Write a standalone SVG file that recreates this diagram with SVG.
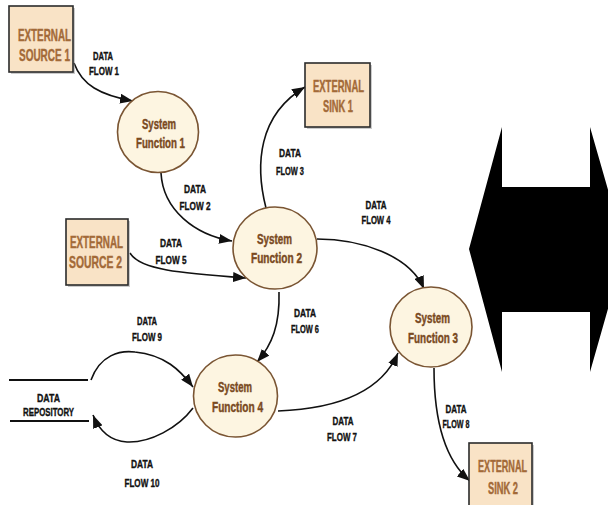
<svg xmlns="http://www.w3.org/2000/svg" width="608" height="505" viewBox="0 0 608 505">
  <style>
    text { font-family: "Liberation Sans", Arial, sans-serif; font-weight: bold; text-anchor: middle; }
    .ext-box { fill: #f9e3c6; stroke: #2b2b2b; stroke-width: 1.6; }
    .ext-shadow { fill: #8c8c8c; opacity: 0.45; }
    .ext-text { font-size: 17px; fill: #a36a38; stroke: #a36a38; stroke-width: 0.45; }
    .proc { fill: #fdf5e1; stroke: #7a5533; stroke-width: 1.6; }
    .proc-text { font-size: 15px; fill: #7a4a1f; stroke: #7a4a1f; stroke-width: 0.45; }
    .flow { fill: none; stroke: #111; stroke-width: 1.6; }
    .flow-text { font-size: 11px; fill: #111; stroke: #111; stroke-width: 0.35; }
    .store-line { stroke: #111; stroke-width: 2; }
  </style>
  <defs>
    <marker id="arrow" viewBox="0 0 13 10" refX="13" refY="5" markerWidth="13" markerHeight="10" markerUnits="userSpaceOnUse" orient="auto">
      <path d="M0,0 L13,5 L0,10 Z" fill="#111"/>
    </marker>
  </defs>

  <!-- connectors -->
  <g id="connectors">
    <path id="flow1" class="flow" d="M74,63 C82,85 100,95 133,101" marker-end="url(#arrow)"/>
    <path id="flow2" class="flow" d="M161,173 C163,210 195,235 232,241" marker-end="url(#arrow)"/>
    <path id="flow3" class="flow" d="M266,208 C255,165 258,115 305,87" marker-end="url(#arrow)"/>
    <path id="flow4" class="flow" d="M317,239 C360,239 410,255 424,289" marker-end="url(#arrow)"/>
    <path id="flow5" class="flow" d="M130,253 C140,270 180,273 246,278" marker-end="url(#arrow)"/>
    <path id="flow6" class="flow" d="M279,292 C280,325 272,345 257,362" marker-end="url(#arrow)"/>
    <path id="flow7" class="flow" d="M278,411 C330,409 380,395 398,353" marker-end="url(#arrow)"/>
    <path id="flow8" class="flow" d="M434,368 C434,420 445,460 470,481" marker-end="url(#arrow)"/>
    <path id="flow9" class="flow" d="M91,380 C100,355 120,350 135,352 C165,355 180,370 193,387" marker-end="url(#arrow)"/>
    <path id="flow10" class="flow" d="M193,408 C178,428 150,443 127,442 C110,441 99,430 93,415" marker-end="url(#arrow)"/>

    <g id="flow-labels" class="flow-text">
      <text x="103" y="60" textLength="20" lengthAdjust="spacingAndGlyphs">DATA</text>
      <text x="104" y="75" textLength="30" lengthAdjust="spacingAndGlyphs">FLOW 1</text>
      <text x="195" y="193" textLength="22" lengthAdjust="spacingAndGlyphs">DATA</text>
      <text x="195" y="210" textLength="31" lengthAdjust="spacingAndGlyphs">FLOW 2</text>
      <text x="290" y="157" textLength="22" lengthAdjust="spacingAndGlyphs">DATA</text>
      <text x="290" y="175" textLength="28" lengthAdjust="spacingAndGlyphs">FLOW 3</text>
      <text x="376" y="209" textLength="21" lengthAdjust="spacingAndGlyphs">DATA</text>
      <text x="376" y="224" textLength="29" lengthAdjust="spacingAndGlyphs">FLOW 4</text>
      <text x="171" y="247" textLength="22" lengthAdjust="spacingAndGlyphs">DATA</text>
      <text x="171" y="264" textLength="31" lengthAdjust="spacingAndGlyphs">FLOW 5</text>
      <text x="305" y="317" textLength="22" lengthAdjust="spacingAndGlyphs">DATA</text>
      <text x="305" y="333" textLength="28" lengthAdjust="spacingAndGlyphs">FLOW 6</text>
      <text x="343" y="425" textLength="21" lengthAdjust="spacingAndGlyphs">DATA</text>
      <text x="342" y="441" textLength="30" lengthAdjust="spacingAndGlyphs">FLOW 7</text>
      <text x="456" y="413" textLength="21" lengthAdjust="spacingAndGlyphs">DATA</text>
      <text x="456" y="428" textLength="27" lengthAdjust="spacingAndGlyphs">FLOW 8</text>
      <text x="147" y="325" textLength="20" lengthAdjust="spacingAndGlyphs">DATA</text>
      <text x="147" y="341" textLength="30" lengthAdjust="spacingAndGlyphs">FLOW 9</text>
      <text x="142" y="468" textLength="22" lengthAdjust="spacingAndGlyphs">DATA</text>
      <text x="142" y="487" textLength="35" lengthAdjust="spacingAndGlyphs">FLOW 10</text>
    </g>
  </g>

  <!-- external entities -->
  <g id="external-source-1">
    <rect class="ext-shadow" x="11" y="8" width="64" height="66"/>
    <rect class="ext-box" x="9" y="6" width="64" height="66"/>
    <text class="ext-text" x="44.5" y="41" textLength="53" lengthAdjust="spacingAndGlyphs">EXTERNAL</text>
    <text class="ext-text" x="44.5" y="61" textLength="51" lengthAdjust="spacingAndGlyphs">SOURCE 1</text>
  </g>
  <g id="external-sink-1">
    <rect class="ext-shadow" x="307" y="65" width="65" height="64"/>
    <rect class="ext-box" x="305" y="63" width="65" height="64"/>
    <text class="ext-text" x="338.5" y="92" textLength="51" lengthAdjust="spacingAndGlyphs">EXTERNAL</text>
    <text class="ext-text" x="338" y="112" textLength="30" lengthAdjust="spacingAndGlyphs">SINK 1</text>
  </g>
  <g id="external-source-2">
    <rect class="ext-shadow" x="68" y="221" width="62" height="66"/>
    <rect class="ext-box" x="66" y="219" width="62" height="66"/>
    <text class="ext-text" x="96.5" y="248" textLength="53" lengthAdjust="spacingAndGlyphs">EXTERNAL</text>
    <text class="ext-text" x="95.5" y="268" textLength="53" lengthAdjust="spacingAndGlyphs">SOURCE 2</text>
  </g>
  <g id="external-sink-2">
    <rect class="ext-shadow" x="471" y="445" width="63" height="66"/>
    <rect class="ext-box" x="469" y="443" width="63" height="66"/>
    <text class="ext-text" x="502.5" y="472" textLength="49" lengthAdjust="spacingAndGlyphs">EXTERNAL</text>
    <text class="ext-text" x="503" y="494" textLength="30" lengthAdjust="spacingAndGlyphs">SINK 2</text>
  </g>

  <!-- processes -->
  <g id="system-function-1">
    <ellipse class="proc" cx="158" cy="132" rx="40.5" ry="40.5"/>
    <text class="proc-text" x="159" y="129" textLength="34" lengthAdjust="spacingAndGlyphs">System</text>
    <text class="proc-text" x="160.5" y="148" textLength="49" lengthAdjust="spacingAndGlyphs">Function 1</text>
  </g>
  <g id="system-function-2">
    <ellipse class="proc" cx="275" cy="248" rx="42" ry="41"/>
    <text class="proc-text" x="274.5" y="244" textLength="35" lengthAdjust="spacingAndGlyphs">System</text>
    <text class="proc-text" x="276.5" y="263" textLength="51" lengthAdjust="spacingAndGlyphs">Function 2</text>
  </g>
  <g id="system-function-3">
    <ellipse class="proc" cx="431" cy="327" rx="41" ry="40"/>
    <text class="proc-text" x="432.5" y="323" textLength="35" lengthAdjust="spacingAndGlyphs">System</text>
    <text class="proc-text" x="433" y="343" textLength="50" lengthAdjust="spacingAndGlyphs">Function 3</text>
  </g>
  <g id="system-function-4">
    <ellipse class="proc" cx="235.5" cy="396" rx="42" ry="41"/>
    <text class="proc-text" x="235" y="392" textLength="34" lengthAdjust="spacingAndGlyphs">System</text>
    <text class="proc-text" x="237.5" y="412" textLength="51" lengthAdjust="spacingAndGlyphs">Function 4</text>
  </g>

  <!-- data store -->
  <g id="data-repository">
    <line class="store-line" x1="9" y1="380" x2="88" y2="380"/>
    <line class="store-line" x1="10" y1="421" x2="89" y2="421"/>
    <text class="flow-text" x="48.5" y="402" textLength="23" lengthAdjust="spacingAndGlyphs">DATA</text>
    <text class="flow-text" x="48.5" y="416" textLength="51" lengthAdjust="spacingAndGlyphs">REPOSITORY</text>
  </g>

  <!-- double-headed block arrow -->
  <g id="equivalence-arrow">
    <polygon points="469,249 502,127 502,187 590,187 590,127 625,249 590,372 590,312 502,312 502,372" fill="#000"/>
  </g>
</svg>
